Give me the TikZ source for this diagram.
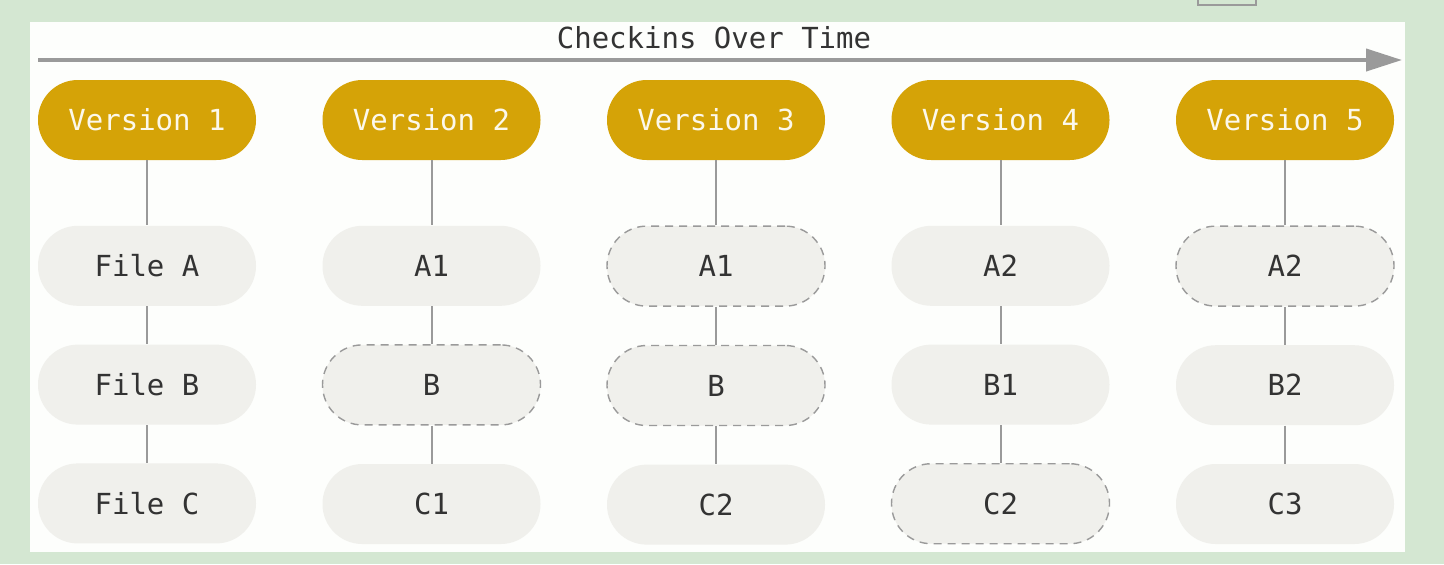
\documentclass[tikz,border=0pt]{standalone}
\usepackage{fontspec}
\setmonofont{DejaVu Sans Mono}
\usetikzlibrary{positioning,arrows.meta}
\definecolor{gold}{HTML}{D5A307}
\definecolor{filebg}{HTML}{F0F0EC}
\definecolor{linegray}{HTML}{9A9A9A}
\definecolor{panelgreen}{HTML}{D4E7D2}
\definecolor{panelwhite}{HTML}{FDFEFC}
\definecolor{textgray}{HTML}{333333}

\begin{document}
\begin{tikzpicture}[
    x=0.5pt, y=-0.5pt,
    node distance=19pt and 32.85pt,
    pill/.style={rounded corners=19.9pt, minimum width=109pt, minimum height=40pt, inner sep=0pt, font=\ttfamily\fontsize{14.5}{16}\selectfont},
    version/.style={pill, fill=gold, text=gold!8},
    file/.style={pill, fill=filebg, text=textgray},
    same/.style={file, draw=linegray, dash pattern=on 4pt off 3pt, line width=0.7pt},
    link/.style={linegray, line width=1pt},
    time/.style={-{Triangle[length=18pt, width=11pt]}, linegray, line width=2pt}
  ]
    % background and panel
    \fill[panelgreen] (0,0) rectangle (1444,564);
    \useasboundingbox (0,0) rectangle (1444,564);
    \fill[panelwhite] (30,22) rectangle (1405,552);
    \draw[linegray, line width=0.6pt] (1198,-10) rectangle (1256,5);

    % time axis
    \coordinate (start) at (38,60);
    \coordinate (stop) at (1402,60);
    \draw[time] (start) -- (stop);
    \node[font=\ttfamily\fontsize{14.5}{16}\selectfont, text=textgray] (title) at (714,38) {Checkins Over Time};

    % versions
    \node[version] (v1) at (147,120) {Version 1};
    \node[version, right=of v1] (v2) {Version 2};
    \node[version, right=of v2] (v3) {Version 3};
    \node[version, right=of v3] (v4) {Version 4};
    \node[version, right=of v4] (v5) {Version 5};

    % files of each version
    \node[file, below=32.5pt of v1] (a1) {File A};
    \node[file, below=of a1] (b1) {File B};
    \node[file, below=of b1] (c1) {File C};

    \node[file, below=32.5pt of v2] (a2) {A1};
    \node[same, below=of a2] (b2) {B};
    \node[file, below=of b2] (c2) {C1};

    \node[same, below=32.5pt of v3] (a3) {A1};
    \node[same, below=of a3] (b3) {B};
    \node[file, below=of b3] (c3) {C2};

    \node[file, below=32.5pt of v4] (a4) {A2};
    \node[file, below=of a4] (b4) {B1};
    \node[same, below=of b4] (c4) {C2};

    \node[same, below=32.5pt of v5] (a5) {A2};
    \node[file, below=of a5] (b5) {B2};
    \node[file, below=of b5] (c5) {C3};

    \foreach \i in {1,...,5} {
      \draw[link] (v\i) -- (a\i);
      \draw[link] (a\i) -- (b\i);
      \draw[link] (b\i) -- (c\i);
    }
  \end{tikzpicture}
\end{document}
